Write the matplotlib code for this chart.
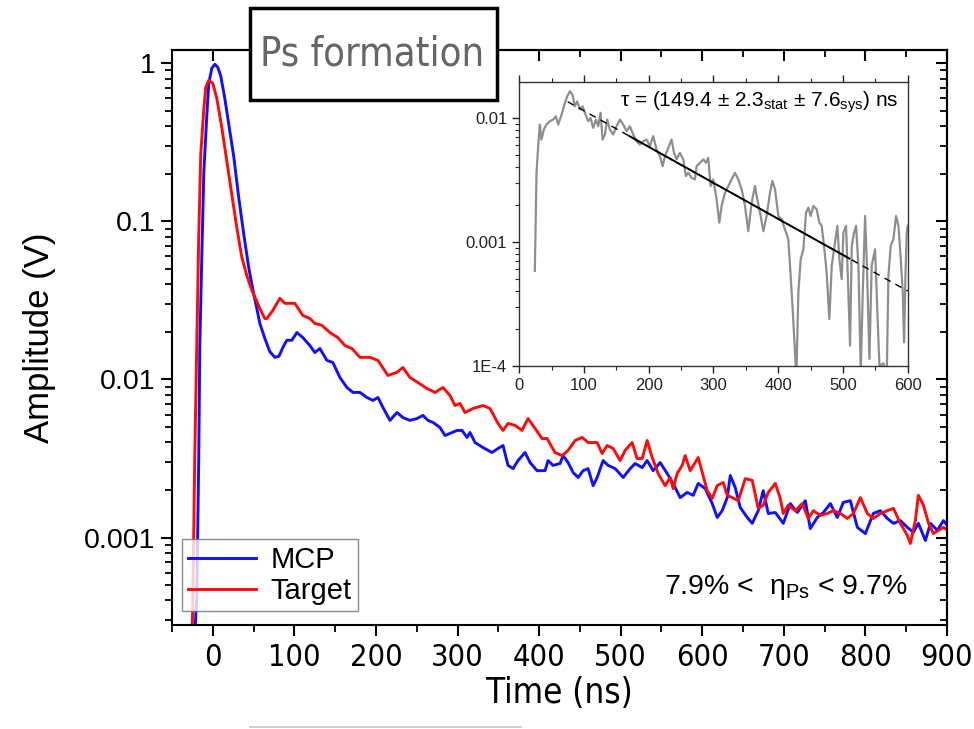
import matplotlib
matplotlib.use("Agg")
import matplotlib.pyplot as plt
import numpy as np
from matplotlib import font_manager as fm
from matplotlib.ticker import FixedLocator, MultipleLocator, LogLocator, NullFormatter, FuncFormatter
from matplotlib.patches import Rectangle
from matplotlib.lines import Line2D

plt.rcParams['font.family'] = ['Liberation Sans', 'DejaVu Sans']
plt.rcParams['mathtext.fontset'] = 'custom'
plt.rcParams['mathtext.rm'] = 'Liberation Sans'
plt.rcParams['mathtext.it'] = 'Liberation Sans:italic'

# MCP signal (blue)
mcp_t = [-23, -19.6, -17.2, -15.9, -13.5, -11.0, -7.4, -4.9, -1.2, 2.5, 6.1, 9.8, 14.7, 19.6, 25.8,
         31.9, 38.0, 44.2, 50.3, 54.0, 57.7, 63.8, 69.9, 76.1, 81.0, 87.1, 90.8, 96.9, 103.1, 110.4,
         119.0, 125.2, 131.3, 139.9, 147.2, 155.8, 164.4, 171.8, 180.4, 189.0, 196.3, 202.5, 208.6,
         217.2, 225.8, 233.1, 241.7, 250.3, 257.7, 263.8, 269.9, 278.5, 284.7, 293.3, 299.4, 305.5,
         311.7, 315.3, 321.5, 331.3, 342.3, 349.7, 355.8, 362.0, 368.1, 374.2, 382.8, 389.0, 397.5,
         407.4, 411.0, 417.2, 425.8, 429.4, 435.6, 441.7, 447.9, 454.0, 460.1, 466.3, 471.2, 478.5,
         484.7, 493.3, 503.1, 511.7, 517.8, 526.4, 532.5, 539.9, 548.5, 557.1, 564.4, 573.0, 581.6,
         589.0, 595.1, 603.7, 612.3, 618.4, 624.5, 630.7, 634.4, 640.5, 646.6, 655.2, 661.3, 668.7,
         674.8, 681.0, 689.6, 699.4, 708.0, 716.6, 726.4, 732.5, 741.1, 748.5, 757.1, 765.6, 773.0,
         781.6, 790.2, 800.0, 809.8, 818.4, 827.0, 834.4, 843.0, 851.5, 858.9, 865.0, 873.6, 879.8,
         888.3, 895.7, 900.0]
mcp_v = [2.0e-4, 4.23e-4, 3.26e-3, 0.0164, 0.0592, 0.204, 0.462, 0.747, 0.929, 0.985, 0.943, 0.828,
         0.600, 0.411, 0.254, 0.140, 0.0827, 0.0504, 0.0345, 0.0281, 0.0226, 0.0182, 0.0150, 0.0138,
         0.0140, 0.0164, 0.0177, 0.0177, 0.0198, 0.0184, 0.0164, 0.0148, 0.0157, 0.0132, 0.0128,
         0.0103, 0.00890, 0.00828, 0.00828, 0.00769, 0.00737, 0.00769, 0.00665, 0.00551, 0.00618,
         0.00574, 0.00551, 0.00566, 0.00592, 0.00551, 0.00535, 0.00497, 0.00442, 0.00462, 0.00476,
         0.00476, 0.00430, 0.00462, 0.00399, 0.00371, 0.00345, 0.00366, 0.00382, 0.00286, 0.00273,
         0.00307, 0.00345, 0.00298, 0.00265, 0.00265, 0.00307, 0.00286, 0.00294, 0.00330, 0.00298,
         0.00258, 0.00240, 0.00265, 0.00273, 0.00213, 0.00240, 0.00307, 0.00286, 0.00273, 0.00240,
         0.00273, 0.00294, 0.00277, 0.00307, 0.00265, 0.00298, 0.00254, 0.00220, 0.00179, 0.00193,
         0.00185, 0.00220, 0.00204, 0.00164, 0.00134, 0.00148, 0.00179, 0.00247, 0.00207, 0.00155,
         0.00134, 0.00123, 0.00148, 0.00198, 0.00142, 0.00144, 0.00123, 0.00164, 0.00144, 0.00171,
         0.00114, 0.00134, 0.00144, 0.00164, 0.00134, 0.00167, 0.00171, 0.00116, 0.00106, 0.00142,
         0.00148, 0.00132, 0.00123, 0.00128, 0.00116, 0.00108, 0.00123, 9.58e-4, 0.00123, 0.00111,
         0.00128, 0.00120]

# Target signal (red)
tgt_t = [-27, -24.5, -22.1, -19.6, -17.2, -14.7, -11.0, -8.6, -4.9, 0.0, 4.9, 11.0, 17.2, 23.3, 29.4,
         35.6, 41.7, 47.9, 54.0, 57.7, 63.8, 66.3, 73.6, 82.2, 88.3, 94.5, 100.6, 110.4, 119.0, 125.2,
         133.7, 143.6, 153.4, 162.0, 170.6, 180.4, 192.6, 202.5, 214.7, 225.8, 233.1, 241.7, 251.5,
         262.6, 272.4, 282.2, 290.8, 296.9, 303.1, 309.2, 319.0, 331.3, 339.9, 349.7, 355.8, 362.0,
         370.6, 379.1, 386.5, 395.1, 403.7, 409.8, 419.6, 428.2, 435.6, 444.2, 452.8, 460.1, 471.2,
         477.3, 483.4, 490.8, 499.4, 505.5, 514.1, 520.2, 526.4, 532.5, 538.7, 546.0, 554.6, 560.7,
         564.4, 569.3, 575.5, 579.1, 585.3, 595.1, 606.1, 612.3, 618.4, 625.8, 630.7, 636.8, 644.2,
         652.8, 661.3, 668.7, 674.8, 681.0, 689.6, 695.7, 699.4, 705.5, 714.1, 722.7, 730.1, 736.2,
         744.8, 753.4, 760.7, 769.3, 777.9, 785.3, 793.9, 802.5, 809.8, 818.4, 827.0, 834.4, 843.0,
         851.5, 855.2, 861.3, 865.0, 871.2, 877.3, 883.4, 889.6, 895.7, 900.0]
tgt_v = [1.0e-4, 3.82e-4, 3.26e-3, 0.0164, 0.0827, 0.269, 0.512, 0.705, 0.780, 0.747, 0.600, 0.394,
         0.240, 0.148, 0.0916, 0.0592, 0.0455, 0.0366, 0.0312, 0.0281, 0.0243, 0.0243, 0.0273, 0.0326,
         0.0303, 0.0303, 0.0303, 0.0254, 0.0243, 0.0226, 0.0220, 0.0198, 0.0184, 0.0164, 0.0157,
         0.0138, 0.0138, 0.0132, 0.0106, 0.0111, 0.0119, 0.0103, 0.00957, 0.00877, 0.00828, 0.00890,
         0.00792, 0.00684, 0.00705, 0.00618, 0.00655, 0.00684, 0.00655, 0.00527, 0.00476, 0.00527,
         0.00512, 0.00476, 0.00566, 0.00490, 0.00423, 0.00423, 0.00345, 0.00330, 0.00356, 0.00411,
         0.00430, 0.00399, 0.00399, 0.00340, 0.00382, 0.00366, 0.00307, 0.00356, 0.00399, 0.00316,
         0.00316, 0.00411, 0.00321, 0.00254, 0.00213, 0.00240, 0.00204, 0.00254, 0.00286, 0.00330,
         0.00265, 0.00321, 0.00198, 0.00177, 0.00213, 0.00223, 0.00185, 0.00179, 0.00171, 0.00236,
         0.00230, 0.00153, 0.00160, 0.00193, 0.00220, 0.00177, 0.00142, 0.00160, 0.00148, 0.00164,
         0.00132, 0.00148, 0.00138, 0.00142, 0.00148, 0.00142, 0.00132, 0.00142, 0.00179, 0.00142,
         0.00132, 0.00142, 0.00148, 0.00153, 0.00123, 0.00103, 9.17e-4, 0.00128, 0.00185, 0.00160,
         0.00124, 0.00106, 0.00111, 0.00116, 0.00112]

# inset: difference signal (grey)
ins_t = [24.2, 25.2, 26.8, 29.4, 31.9, 34.5, 38.1, 42.2, 47.4, 52.5, 56.7, 60.3, 65.4, 70.6, 74.2,
         78.3, 82.4, 86.0, 89.6, 93.7, 97.9, 101.5, 106.6, 110.2, 114.3, 118.5, 122.1, 125.7, 128.8,
         132.4, 136.0, 140.1, 145.2, 150.4, 155.5, 160.7, 165.8, 171.0, 176.1, 181.3, 186.4, 191.6,
         196.7, 201.9, 207.0, 212.2, 217.3, 221.5, 225.1, 230.2, 235.4, 239.0, 243.1, 248.2, 253.4,
         257.5, 261.1, 266.3, 271.4, 274.0, 279.1, 284.3, 288.4, 292.0, 295.6, 299.7, 304.9, 309.0,
         312.6, 317.8, 322.9, 328.1, 333.2, 338.4, 343.5, 348.7, 353.8, 359.0, 364.1, 367.7, 372.9,
         377.0, 382.1, 387.3, 390.9, 395.0, 400.2, 405.3, 410.5, 415.6, 419.2, 422.3, 426.4, 428.0,
         431.1, 434.7, 438.8, 442.9, 446.5, 450.1, 454.2, 459.4, 463.5, 467.1, 470.7, 474.8, 478.9,
         482.6, 487.7, 491.3, 494.4, 498.0, 500.6, 504.7, 508.3, 510.9, 513.5, 517.1, 520.2, 523.8,
         527.4, 530.5, 534.1, 536.6, 540.8, 544.3, 549.5, 556.2, 562.4, 567.5, 570.1, 573.7, 577.8,
         581.9, 585.6, 589.2, 592.3, 594.3, 596.4, 598.4, 600.0]
ins_v = [5.85e-4, 1.12e-3, 3.61e-3, 5.91e-3, 8.84e-3, 6.69e-3, 8.06e-3, 8.84e-3, 9.40e-3, 9.70e-3,
         0.0103, 8.84e-3, 0.0106, 0.0132, 0.0149, 0.0164, 0.0154, 0.0124, 0.0136, 0.0117, 0.0124,
         0.0110, 9.40e-3, 0.0100, 8.31e-3, 9.70e-3, 8.57e-3, 0.0110, 6.69e-3, 7.34e-3, 9.70e-3,
         8.06e-3, 7.34e-3, 8.57e-3, 9.70e-3, 8.84e-3, 7.81e-3, 8.57e-3, 7.34e-3, 6.49e-3, 6.10e-3,
         6.49e-3, 6.69e-3, 5.91e-3, 7.13e-3, 5.56e-3, 4.92e-3, 4.08e-3, 4.92e-3, 5.74e-3, 6.69e-3,
         5.23e-3, 4.63e-3, 5.23e-3, 4.63e-3, 3.40e-3, 3.61e-3, 3.29e-3, 3.19e-3, 4.08e-3, 4.35e-3,
         4.63e-3, 4.35e-3, 4.77e-3, 2.82e-3, 3.19e-3, 2.20e-3, 1.43e-3, 1.95e-3, 2.49e-3, 2.82e-3,
         3.19e-3, 3.61e-3, 3.19e-3, 2.66e-3, 1.95e-3, 1.22e-3, 2.07e-3, 2.82e-3, 2.20e-3, 1.62e-3,
         1.22e-3, 1.62e-3, 2.49e-3, 3.10e-3, 2.66e-3, 1.62e-3, 1.52e-3, 1.26e-3, 1.05e-3, 5.33e-4,
         2.87e-4, 1.14e-4, 8.0e-5, 3.91e-4, 7.26e-4, 8.73e-4, 1.72e-3, 1.89e-3, 1.62e-3, 1.95e-3,
         1.83e-3, 1.43e-3, 1.35e-3, 9.29e-4, 5.66e-4, 2.39e-4, 6.41e-4, 9.88e-4, 1.35e-3, 7.26e-4,
         5.01e-4, 1.19e-3, 1.35e-3, 3.91e-4, 1.46e-4, 9.29e-4, 1.19e-3, 1.35e-3, 6.41e-4, 9.0e-5,
         3.91e-4, 1.62e-3, 7.26e-4, 1.14e-4, 6.41e-4, 8.73e-4, 1.0e-4, 1.05e-4, 8.0e-5, 5.33e-4,
         9.29e-4, 1.05e-3, 1.62e-3, 1.35e-3, 7.26e-4, 3.91e-4, 1.55e-4, 5.33e-4, 1.19e-3, 1.35e-3]

# exponential fit in the inset
fit_tau = 149.4
fit_amp = 0.0223
fit_range = (170, 510)     # solid part
fit_extent = (75, 600)     # dashed extrapolation


def find_condensed():
    # look for any installed condensed sans face
    prefs = ['Liberation Sans Narrow', 'DejaVu Sans', 'Noto Sans', 'Roboto', 'Open Sans']
    cands = [f for f in fm.fontManager.ttflist
             if f.stretch in ('condensed', 'semi-condensed', 'extra-condensed')
             and f.style == 'normal' and f.weight in (400, 'normal', 'regular', 'book')]
    for p in prefs:
        for f in cands:
            if f.name == p:
                return f.fname
    for f in fm.fontManager.ttflist:
        if 'Narrow' in f.name or 'Condensed' in f.fname:
            if f.style == 'normal' and 'Bold' not in f.fname:
                return f.fname
    return None


cond_path = find_condensed()


def narrow(size):
    if cond_path:
        return fm.FontProperties(fname=cond_path, size=size)
    return fm.FontProperties(family='Liberation Sans', size=size * 0.85)


fig = plt.figure(figsize=(9.74, 7.29), dpi=100)
ax = fig.add_axes([0.1766, 0.1427, 0.7956, 0.7885])

ax.plot(mcp_t, mcp_v, color='#1010ff', lw=2.1, label='MCP')
ax.plot(tgt_t, tgt_v, color='#ff0a0a', lw=2.1, label='Target')
ax.set_yscale('log')
ax.set_xlim(-50, 900)
ax.set_ylim(2.8e-4, 1.21)

ax.xaxis.set_major_locator(FixedLocator([0, 100, 200, 300, 400, 500, 600, 700, 800, 900]))
ax.xaxis.set_minor_locator(MultipleLocator(50))
ax.yaxis.set_major_locator(LogLocator(base=10, numticks=10))
ax.yaxis.set_minor_locator(LogLocator(base=10, subs=np.arange(2, 10), numticks=20))
ax.yaxis.set_minor_formatter(NullFormatter())
ax.yaxis.set_major_formatter(FuncFormatter(lambda v, p: {1.0: '1', 0.1: '0.1', 0.01: '0.01', 0.001: '0.001'}.get(round(v, 6), '')))

for s in ax.spines.values():
    s.set_linewidth(1.5)
ax.tick_params(axis='both', which='major', length=8, width=1.5)
ax.tick_params(axis='both', which='minor', length=5, width=1.3)
ax.tick_params(axis='x', which='both', direction='out', top=False, bottom=True)
ax.tick_params(axis='y', which='both', direction='out', left=True, right=False)
ax.tick_params(axis='y', which='major', labelsize=20.5, pad=4)
ax.tick_params(axis='x', which='major', pad=5)
for lab in ax.get_xticklabels():
    lab.set_fontproperties(narrow(22))

# mirrored top and right axes with inward ticks
sec_x = ax.secondary_xaxis('top')
sec_x.xaxis.set_major_locator(FixedLocator([0, 100, 200, 300, 400, 500, 600, 700, 800, 900]))
sec_x.xaxis.set_minor_locator(MultipleLocator(50))
sec_x.tick_params(which='major', direction='in', length=8, width=1.5, labeltop=False)
sec_x.tick_params(which='minor', direction='in', length=5, width=1.3)
sec_x.spines['top'].set_linewidth(1.5)

sec_y = ax.secondary_yaxis('right')
sec_y.yaxis.set_major_locator(LogLocator(base=10, numticks=10))
sec_y.yaxis.set_minor_locator(LogLocator(base=10, subs=np.arange(2, 10), numticks=20))
sec_y.tick_params(which='major', direction='in', length=8, width=1.5, labelright=False)
sec_y.tick_params(which='minor', direction='in', length=5, width=1.3, labelright=False)
sec_y.spines['right'].set_linewidth(1.5)

ax.set_xlabel('Time (ns)', fontproperties=narrow(25), labelpad=3)
ax.set_ylabel('Amplitude (V)', fontsize=25, labelpad=20)

leg = ax.legend(loc='lower left', bbox_to_anchor=(0.013, 0.024), fontsize=21, frameon=True,
                fancybox=False, handlelength=2.3, handletextpad=0.5, borderpad=0.22,
                labelspacing=0.1, borderaxespad=0)
leg.get_frame().set_edgecolor('#707070')
leg.get_frame().set_linewidth(1.0)

ax.text(0.95, 0.065, '7.9% <  η$_{\\mathrm{Ps}}$ < 9.7%', transform=ax.transAxes,
        fontsize=20.5, ha='right', va='center')

# inset
ins = fig.add_axes([0.533, 0.498, 0.399, 0.3896])
ins.plot(ins_t, ins_v, color='#8e8e8e', lw=1.6)
tt = np.linspace(fit_extent[0], fit_extent[1], 200)
ins.plot(tt, fit_amp * np.exp(-tt / fit_tau), color='black', lw=1.0, ls=(0, (5, 4)))
ts = np.linspace(fit_range[0], fit_range[1], 100)
ins.plot(ts, fit_amp * np.exp(-ts / fit_tau), color='black', lw=1.4)
ins.set_yscale('log')
ins.set_xlim(0, 600)
ins.set_ylim(1e-4, 0.0195)
ins.xaxis.set_major_locator(MultipleLocator(100))
ins.xaxis.set_minor_locator(MultipleLocator(50))
ins.yaxis.set_major_locator(LogLocator(base=10, numticks=10))
ins.yaxis.set_minor_locator(LogLocator(base=10, subs=np.arange(2, 10), numticks=20))
ins.yaxis.set_minor_formatter(NullFormatter())
ins.yaxis.set_major_formatter(FuncFormatter(lambda v, p: {0.01: '0.01', 0.001: '0.001', 0.0001: '1E-4'}.get(round(v, 7), '')))
ins.tick_params(which='both', direction='out', top=True, right=False, labelsize=12, colors='#222222')
ins.tick_params(which='major', length=5, width=1.0)
ins.tick_params(which='minor', length=3, width=0.8)
for s in ins.spines.values():
    s.set_linewidth(1.0)
    s.set_color('#333333')
ins.text(0.975, 0.93, 'τ = (149.4 ± 2.3$_{\\mathrm{stat}}$ ± 7.6$_{\\mathrm{sys}}$) ns',
         transform=ins.transAxes, fontsize=15, ha='right', va='center')

# title box
fig.patches.append(Rectangle((0.257, 0.8628), 0.2536, 0.126, transform=fig.transFigure,
                             facecolor='white', edgecolor='black', lw=2.5, zorder=5))
title_fp = narrow(28.5) if cond_path else fm.FontProperties(family='Liberation Sans', size=26)
fig.text(0.382, 0.925, 'Ps formation', fontproperties=title_fp, color='#666666',
         ha='center', va='center', zorder=6)

fig.lines.append(Line2D([0.257, 0.535], [0.003, 0.003], transform=fig.transFigure,
                        color='#c8c8c8', lw=1.2))

fig.savefig('out.png', dpi=100)
